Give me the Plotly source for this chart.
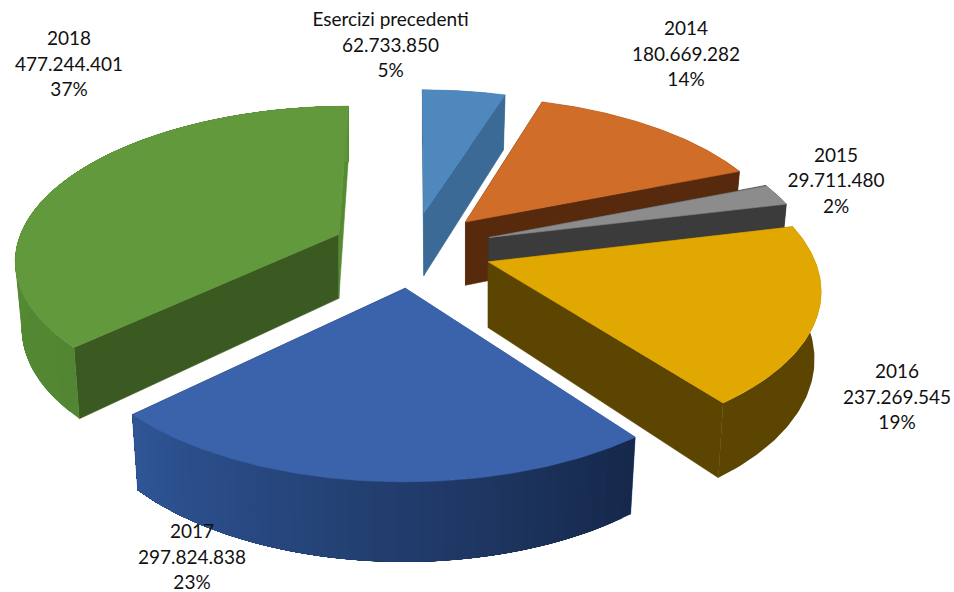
import numpy as np
import plotly.graph_objects as go

# Residui per anno di provenienza
categories = ["Esercizi precedenti", "2014", "2015", "2016", "2017", "2018"]
amounts = [62733850, 180669282, 29711480, 237269545, 297824838, 477244401]
percents = [5, 14, 2, 19, 23, 37]

# Label anchors (centre of each three-line block, in page pixels)
label_x = [390.5, 686, 836, 897, 192, 69]
label_y = [47, 56, 182.5, 399, 559, 66]
LINE_STEP = 25.6

# Radial pull of each slice, relative to the common explosion
slice_pull = [1.0, 1.0, 1.01, 0.99, 1.0, 1.0]

# Slice colours: top face, cut faces (start, end), rim gradient (start, end)
top_colors = ["#4f88bd", "#d06d28", "#8c8c8c", "#e0a800", "#3b63ab", "#62993c"]
cut_start = ["#3b6a96", "#582a0d", "#3b3b3b", "#5c4500", "#2f5596", "#3a5a22"]
cut_end = ["#3b6a96", "#582a0d", "#3b3b3b", "#5c4500", "#16284a", "#558a33"]
rim_start = ["#3b6a96", "#582a0d", "#3b3b3b", "#5c4500", "#16284a", "#528632"]
rim_end = ["#3b6a96", "#582a0d", "#3b3b3b", "#5c4500", "#2f5596", "#5c9338"]

# Projection of the tilted pie onto the page
CX, CY = 412.0, 249.0
RX, RY = 323.0, 151.5
PERSPECTIVE = 0.15
EXPLODE = 0.25
THICKNESS = 65.0
BASE_SHRINK = 0.98


def project(u, v):
    w = 1.0 - PERSPECTIVE * v
    return CX + RX * u / w, CY + RY * v / w, w


def top_point(theta, radius, offset):
    u = offset[0] + radius * np.sin(theta)
    v = offset[1] - radius * np.cos(theta)
    return project(u, v)[:2]


def base_point(theta, radius, offset):
    u = offset[0] + radius * np.sin(theta)
    v = offset[1] - radius * np.cos(theta)
    x, y, w = project(u, v)
    apex_x = project(offset[0], offset[1])[0]
    return apex_x + (x - apex_x) * BASE_SHRINK, y + THICKNESS / w


def mix(c0, c1, t):
    a = [int(c0[i:i + 2], 16) for i in (1, 3, 5)]
    b = [int(c1[i:i + 2], 16) for i in (1, 3, 5)]
    return "#" + "".join(f"{round(p + (q - p) * t):02x}" for p, q in zip(a, b))


def add_poly(fig, xs, ys, color, edge=0.6):
    fig.add_trace(go.Scatter(
        x=list(xs) + [xs[0]], y=list(ys) + [ys[0]], mode="lines", fill="toself",
        fillcolor=color, line=dict(color=color, width=edge),
        hoverinfo="skip", showlegend=False,
    ))


fig = go.Figure()
total = sum(amounts)
edges = np.concatenate([[0.0], np.cumsum(amounts) / total]) * 2 * np.pi

for i, name in enumerate(categories):
    a0, a1 = edges[i], edges[i + 1]
    mid = (a0 + a1) / 2
    pull = EXPLODE * slice_pull[i]
    off = (pull * np.sin(mid), -pull * np.cos(mid))

    # Flat cut faces
    for ang, col in ((a0, cut_start[i]), (a1, cut_end[i])):
        t_apex, t_rim = top_point(ang, 0, off), top_point(ang, 1, off)
        b_apex, b_rim = base_point(ang, 0, off), base_point(ang, 1, off)
        add_poly(fig, [t_apex[0], t_rim[0], b_rim[0], b_apex[0]],
                 [t_apex[1], t_rim[1], b_rim[1], b_apex[1]], col)

    # Curved outer wall; gradient strips overlap the rest of the arc so no seams show
    n_strips = 1 if rim_start[i] == rim_end[i] else 48
    bounds = np.linspace(a0, a1, n_strips + 1)
    for s in range(n_strips):
        arc = np.linspace(bounds[s], a1, 80)
        tx, ty = zip(*[top_point(t, 1, off) for t in arc])
        bx, by = zip(*[base_point(t, 1, off) for t in arc[::-1]])
        frac = (s + 0.5) / n_strips
        add_poly(fig, tx + bx, ty + by, mix(rim_start[i], rim_end[i], frac), edge=0)

    # Top face
    arc = np.linspace(a0, a1, 120)
    xs, ys = zip(*[top_point(t, 1, off) for t in arc])
    ax, ay = top_point(a0, 0, off)
    add_poly(fig, (ax,) + xs, (ay,) + ys, top_colors[i])

# Three centred lines per slice: name, amount, share
text_x, text_y, text_s = [], [], []
for name, amount, pct, lx, ly in zip(categories, amounts, percents, label_x, label_y):
    lines = [name, f"{amount:,}".replace(",", "."), f"{pct}%"]
    for k, line in enumerate(lines):
        text_x.append(lx)
        text_y.append(ly + (k - 1) * LINE_STEP)
        text_s.append(line)

fig.add_trace(go.Scatter(
    x=text_x, y=text_y, mode="text", text=text_s, textposition="middle center",
    textfont=dict(family="Lato", size=19, color="#111111"),
    hoverinfo="skip", showlegend=False,
))

fig.update_layout(
    width=954, height=592, autosize=False,
    margin=dict(l=0, r=0, t=0, b=0),
    paper_bgcolor="white", plot_bgcolor="white",
    xaxis=dict(range=[0, 954], visible=False, fixedrange=True),
    yaxis=dict(range=[592, 0], visible=False, fixedrange=True),
)
fig.write_html("out.html", config={"displayModeBar": False})
